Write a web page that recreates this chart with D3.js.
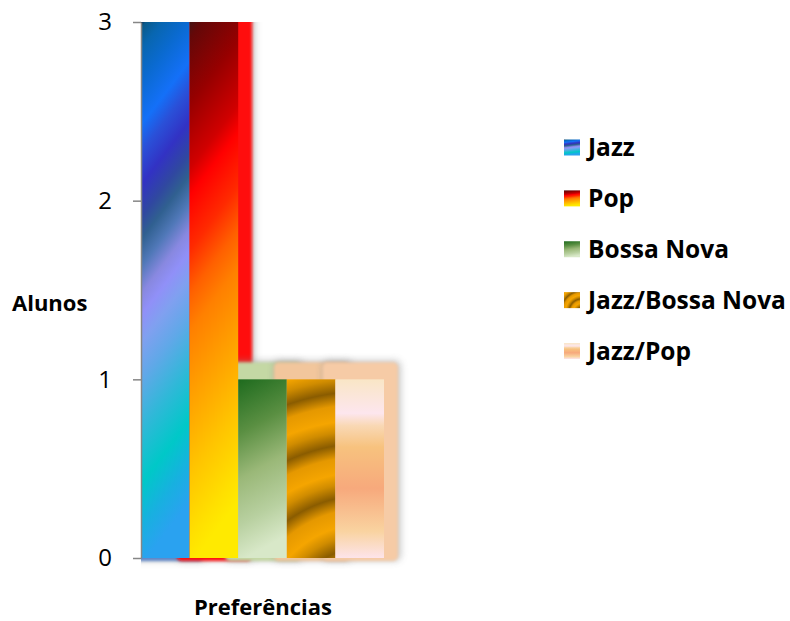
<!DOCTYPE html>
<html>
<head>
<meta charset="utf-8">
<script src="https://cdn.jsdelivr.net/npm/d3@7"></script>
<style>
  html, body { margin: 0; padding: 0; background: #ffffff; }
  svg { display: block; }
  text { font-family: "Open Sans", "Noto Sans", sans-serif; fill: #000; }
</style>
</head>
<body>
<svg id="chart" width="790" height="621"></svg>
<script>
// Music preferences of the class: number of students per style
const categories = ["Jazz", "Pop", "Bossa Nova", "Jazz/Bossa Nova", "Jazz/Pop"];
const alunos = [3, 3, 1, 1, 1];
const yTicks = [0, 1, 2, 3];
const yTitle = "Alunos";
const xTitle = "Preferências";

// Fill styles per series
const gradientStops = [
  // Jazz
  [[0, "#0a2a50"], [0.012, "#0a5a8a"], [0.05, "#0866b0"], [0.11, "#0a6ad0"], [0.19, "#1470f8"],
   [0.24, "#2a50d8"], [0.30, "#3232c4"], [0.36, "#3048a0"], [0.40, "#306090"], [0.45, "#5078b8"],
   [0.50, "#8888e0"], [0.54, "#9090f8"], [0.59, "#80a0f0"], [0.66, "#60a8e8"], [0.75, "#30b8d8"],
   [0.85, "#00c8c8"], [0.93, "#18b0e0"], [1, "#2aa2f0"]],
  // Pop
  [[0, "#461414"], [0.03, "#640808"], [0.15, "#960000"], [0.27, "#d00000"], [0.32, "#ff0000"],
   [0.42, "#ff2a00"], [0.50, "#ff6000"], [0.57, "#ff8000"], [0.70, "#ffa200"], [0.83, "#ffc400"],
   [0.95, "#ffe000"], [1, "#ffea00"]],
  // Bossa Nova
  [[0, "#1e6b1e"], [0.3, "#5a8f42"], [0.55, "#9ab878"], [0.8, "#b8d0a0"], [1, "#d8e8c8"]],
  // Jazz/Bossa Nova (radial, repeated)
  [[0, "#f5a500"], [0.3, "#e59800"], [0.55, "#8a5c00"], [0.8, "#d08c00"], [1, "#f5a500"]],
  // Jazz/Pop
  [[0, "#f9e6c6"], [0.19, "#fde6ee"], [0.26, "#f9d8b4"], [0.38, "#f7c27e"], [0.61, "#f7a97c"],
   [0.85, "#f9d3a0"], [1, "#fde4ea"]]
];
const shadowColors = ["#5d86c8", "#ff0808", "#c4d8a4", "#f2c69c", "#f6cba6"];

const svg = d3.select("#chart");
const W = 790, H = 621;
const plot = { left: 141, right: 384, top: 22, bottom: 558 };

svg.append("rect").attr("width", W).attr("height", H).attr("fill", "#fff");

const x = d3.scaleBand().domain(categories).range([plot.left, plot.right]).padding(0);
const y = d3.scaleLinear().domain([0, 3]).range([plot.bottom, plot.top]);

const defs = svg.append("defs");

// Linear gradients shared by bars and legend keys (bounding-box units)
function addLinear(id, stops, x2) {
  const g = defs.append("linearGradient").attr("id", id)
    .attr("x1", 0).attr("y1", 0).attr("x2", x2).attr("y2", 1);
  stops.forEach(s => g.append("stop").attr("offset", s[0]).attr("stop-color", s[1]));
}
addLinear("g0", gradientStops[0], 0.12);
addLinear("g1", gradientStops[1], 0.12);
addLinear("g2", gradientStops[2], 0.15);
addLinear("g4", gradientStops[4], 0);

// Wood-grain rings for Jazz/Bossa Nova
const jbnX = x(categories[3]), jbnW = x.bandwidth();
const rg = defs.append("radialGradient").attr("id", "g3")
  .attr("gradientUnits", "userSpaceOnUse")
  .attr("cx", jbnX + jbnW + 30).attr("cy", y(0) + 70)
  .attr("fx", jbnX + jbnW + 30).attr("fy", y(0) + 70)
  .attr("r", 52).attr("spreadMethod", "repeat");
gradientStops[3].forEach(s => rg.append("stop").attr("offset", s[0]).attr("stop-color", s[1]));
const rgKey = defs.append("radialGradient").attr("id", "g3key")
  .attr("cx", 1.1).attr("cy", 1.2).attr("r", 0.5).attr("spreadMethod", "repeat");
gradientStops[3].forEach(s => rgKey.append("stop").attr("offset", s[0]).attr("stop-color", s[1]));

defs.append("filter").attr("id", "soft").attr("x", "-30%").attr("y", "-30%")
  .attr("width", "160%").attr("height", "160%")
  .append("feGaussianBlur").attr("stdDeviation", 1.6);
defs.append("filter").attr("id", "halo").attr("x", "-30%").attr("y", "-30%")
  .attr("width", "160%").attr("height", "160%")
  .append("feGaussianBlur").attr("stdDeviation", 3.5);

defs.append("clipPath").attr("id", "plotClip").append("rect")
  .attr("x", plot.left).attr("y", plot.top)
  .attr("width", W - plot.left).attr("height", H - plot.top);

const fills = ["url(#g0)", "url(#g1)", "url(#g2)", "url(#g3)", "url(#g4)"];
const keyFills = ["url(#g0)", "url(#g1)", "url(#g2)", "url(#g3key)", "url(#g4)"];

const data = categories.map((c, i) => ({ c, v: alunos[i], i }));

// Offset shadows behind the bars
const shadows = svg.append("g").attr("clip-path", "url(#plotClip)");
data.forEach(d => {
  const bx = x(d.c) - 13, bw = x.bandwidth() + 27;
  const by = y(d.v) - 17, bh = y(0) - y(d.v) + 20;
  shadows.append("rect")
    .attr("x", bx).attr("y", by - 2).attr("width", bw + 3).attr("height", bh + 2)
    .attr("rx", 6).attr("fill", "#8a8a8a").attr("opacity", 0.45)
    .attr("filter", "url(#halo)");
  shadows.append("rect")
    .attr("x", bx).attr("y", by).attr("width", bw).attr("height", bh)
    .attr("rx", 5).attr("fill", shadowColors[d.i])
    .attr("filter", "url(#soft)");
});

// Bars
svg.append("g").selectAll("rect").data(data).join("rect")
  .attr("x", d => x(d.c))
  .attr("y", d => y(d.v))
  .attr("width", x.bandwidth())
  .attr("height", d => y(0) - y(d.v))
  .attr("fill", d => fills[d.i]);

// Value axis
const yAxis = d3.axisLeft(y).tickValues(yTicks).tickFormat(d3.format("d"))
  .tickSize(8).tickSizeOuter(0).tickPadding(21);
const ax = svg.append("g").attr("transform", `translate(${plot.left},0)`).call(yAxis);
ax.select(".domain").attr("stroke", "#868686").attr("stroke-width", 1.5);
ax.selectAll(".tick line").attr("stroke", "#868686").attr("stroke-width", 1.5);
ax.selectAll(".tick text").attr("font-family", "Open Sans").attr("font-size", 24)
  .attr("fill", "#000");

// Axis titles
svg.append("text").attr("x", 12).attr("y", 311)
  .attr("font-size", 22).attr("font-weight", "bold").text(yTitle);
svg.append("text").attr("x", 263).attr("y", 615).attr("text-anchor", "middle")
  .attr("font-size", 22).attr("font-weight", "bold").text(xTitle);

// Legend
const legend = svg.append("g");
const rowY = d3.scalePoint().domain(categories).range([147.5, 351]);
const rows = legend.selectAll("g").data(data).join("g")
  .attr("transform", d => `translate(564,${rowY(d.c)})`);
rows.append("rect").attr("x", 0).attr("y", -8).attr("width", 16).attr("height", 16)
  .attr("fill", d => keyFills[d.i]);
rows.append("text").attr("x", 24).attr("y", 8.5)
  .attr("font-size", 24.5).attr("font-weight", "bold").text(d => d.c);
</script>
</body>
</html>
